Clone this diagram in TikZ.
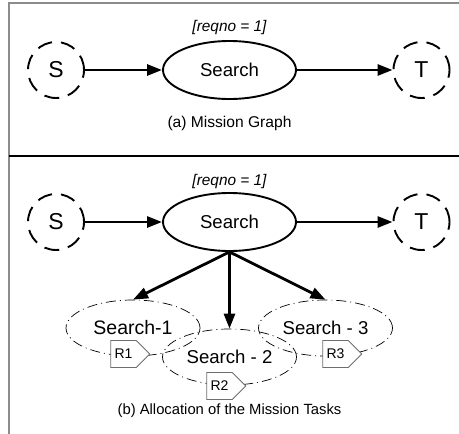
\documentclass[tikz,border=0pt]{standalone}
\usepackage{fontspec}
\setmainfont{Liberation Sans}
\usetikzlibrary{arrows.meta,positioning,shapes.geometric,shapes.symbols}
\definecolor{Frame}{HTML}{8C8C8C}
\definecolor{TagGray}{HTML}{6E6E6E}

\begin{document}
\begin{tikzpicture}[x=1pt,y=-1pt,
  every node/.style={font=\fontsize{18.6}{22}\selectfont},
  endpt/.style={circle,draw,line width=1.9pt,dash pattern=on 15pt off 9pt,
    minimum size=56pt,inner sep=0pt,font=\fontsize{23}{26}\selectfont},
  task/.style={ellipse,draw,line width=1.9pt,minimum width=133pt,minimum height=58pt},
  subtask/.style={ellipse,draw,line width=0.7pt,
    dash pattern=on 10pt off 4pt on 1pt off 4pt,minimum width=134pt,minimum height=56pt},
  robot/.style={signal,signal to=east,signal pointer angle=90,draw=TagGray,fill=white,
    line width=0.8pt,minimum width=39pt,minimum height=27pt,inner sep=1pt,
    font=\fontsize{14}{16}\selectfont},
  req/.style={font=\fontsize{15.4}{18}\selectfont\itshape},
  caption/.style={font=\fontsize{15.6}{18}\selectfont},
  arrow/.style={-{Triangle[length=15pt,width=11pt]},line width=2.8pt}
]
\useasboundingbox (0,0) rectangle (459,434);
% frame
\draw[Frame,line width=2pt] (8.5,434) -- (8.5,2.5) -- (459,2.5);
\draw[line width=1.2pt] (8.5,156) -- (459,156);

% (a) mission graph
\node[req] (reqA) at (229.5,28) {[reqno = 1]};
\node[endpt] (srcA) at (56,70) {S};
\node[task] (srchA) at (229.5,70) {Search};
\node[endpt] (tgtA) at (421.5,70) {T};
\node[caption] (capA) at (229.5,123) {(a) Mission Graph};
\draw[arrow] (srcA) -- (srchA);
\draw[arrow] (srchA) -- (tgtA);

% (b) allocation
\node[req] (reqB) at (229.5,182) {[reqno = 1]};
\node[endpt] (srcB) at (56,222) {S};
\node[task] (srchB) at (229.5,222) {Search};
\node[endpt] (tgtB) at (421.5,222) {T};
\node[subtask,font=\fontsize{19.5}{22}\selectfont] (sub1) at (133,328) {Search-1};
\node[subtask] (sub2) at (229.5,357) {Search - 2};
\node[subtask] (sub3) at (325.5,328) {Search - 3};
\node[robot] (r1) at (123.5,354) {R1};
\node[robot] (r2) at (219.5,386) {R2};
\node[robot] (r3) at (335.5,354) {R3};
\node[caption,font=\fontsize{14.8}{17}\selectfont] (capB) at (229.5,411) {(b) Allocation of the Mission Tasks};
\draw[arrow] (srcB) -- (srchB);
\draw[arrow] (srchB) -- (tgtB);
\draw[arrow] (srchB.south) -- (sub1.north);
\draw[arrow] (srchB.south) -- (sub2.north);
\draw[arrow] (srchB.south) -- (sub3.north);
\end{tikzpicture}
\end{document}
